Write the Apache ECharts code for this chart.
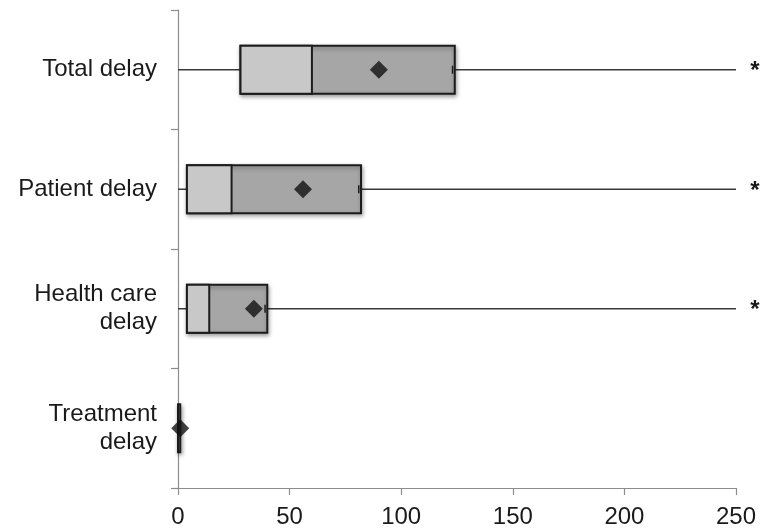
<!DOCTYPE html>
<html>
<head>
<meta charset="utf-8">
<script src="https://cdn.jsdelivr.net/npm/echarts@6/dist/echarts.min.js"></script>
<style>
html,body{margin:0;padding:0;background:#fff;}
#chart{width:760px;height:531px;}
</style>
</head>
<body>
<div id="chart"></div>
<script>
const categories = ['Total delay', 'Patient delay', 'Health care\ndelay', 'Treatment\ndelay'];
const whiskerLow = [0, 0, 0, 0];
const q1 = [28, 4, 4, 0];
const median = [60, 24, 14, 0.5];
const q3 = [124, 82, 40, 1];
const whiskerHigh = [250, 250, 250, 1];
const capMark = [123, 81, 39, null];
const mean = [90, 56, 34, 1];
const outlierMark = ['*', '*', '*', ''];
const xTicks = [0, 50, 100, 150, 200, 250];

const FONT = '"Liberation Sans", Arial, Helvetica, sans-serif';
const chart = echarts.init(document.getElementById('chart'));

const boxData = categories.map((c, i) => [i, whiskerLow[i], q1[i], median[i], q3[i], whiskerHigh[i]]);
const meanData = categories.map((c, i) => [mean[i], i]);

function renderBox(params, api) {
  const idx = params.dataIndex;
  const i = api.value(0);
  const pLow = api.coord([api.value(1), i]);
  const pQ1 = api.coord([api.value(2), i]);
  const pMed = api.coord([api.value(3), i]);
  const pQ3 = api.coord([api.value(4), i]);
  const pHigh = api.coord([api.value(5), i]);
  const band = api.size([0, 1])[1];
  const h = band * 0.4;
  const y = pMed[1];
  const top = y - h / 2;
  const children = [];
  if (pHigh[0] - pLow[0] > 4) {
    children.push({
      type: 'line',
      shape: { x1: pLow[0], y1: y, x2: pHigh[0], y2: y },
      style: { stroke: '#3a3a3a', lineWidth: 1.5 }
    });
  }
  children.push({
    type: 'rect',
    shape: { x: pQ1[0], y: top, width: Math.max(pQ3[0] - pQ1[0], 0.5), height: h },
    style: {
      fill: '#a6a6a6', stroke: '#1c1c1c', lineWidth: 2,
      shadowBlur: 4, shadowOffsetX: 1, shadowOffsetY: 2, shadowColor: 'rgba(0,0,0,0.35)'
    }
  });
  if (pMed[0] - pQ1[0] > 2) {
    children.push({
      type: 'rect',
      shape: { x: pQ1[0], y: top, width: pMed[0] - pQ1[0], height: h },
      style: { fill: '#c8c8c8', stroke: '#1c1c1c', lineWidth: 2 }
    });
  }
  if (capMark[idx] != null) {
    const pc = api.coord([capMark[idx], i]);
    children.push({
      type: 'line',
      shape: { x1: pc[0], y1: y - 4, x2: pc[0], y2: y + 4 },
      style: { stroke: '#1c1c1c', lineWidth: 1.5 }
    });
  }
  if (outlierMark[idx]) {
    children.push({
      type: 'text',
      style: {
        x: pHigh[0] + 19, y: y + 2, text: outlierMark[idx],
        font: 'bold 24px ' + FONT, fill: '#1a1a1a', align: 'center', verticalAlign: 'middle'
      }
    });
  }
  return { type: 'group', children };
}

chart.setOption({
  animation: false,
  backgroundColor: '#ffffff',
  grid: { left: 178, right: 24, top: 10, bottom: 43, containLabel: false },
  xAxis: {
    type: 'value',
    min: xTicks[0],
    max: xTicks[xTicks.length - 1],
    interval: xTicks[1] - xTicks[0],
    splitLine: { show: false },
    axisLine: { show: true, lineStyle: { color: '#8c8c8c', width: 1.2 } },
    axisTick: { show: true, length: 7, lineStyle: { color: '#8c8c8c', width: 1.2 } },
    axisLabel: { fontSize: 24, fontFamily: FONT, color: '#1a1a1a', margin: 17 }
  },
  yAxis: {
    type: 'category',
    data: categories,
    inverse: true,
    boundaryGap: true,
    axisLine: { show: true, lineStyle: { color: '#8c8c8c', width: 1.2 } },
    axisTick: { show: true, length: 7, interval: 0, lineStyle: { color: '#8c8c8c', width: 1.2 } },
    axisLabel: { fontSize: 24, lineHeight: 28, fontFamily: FONT, color: '#1a1a1a', margin: 21, interval: 0 },
    splitLine: { show: false }
  },
  series: [
    {
      type: 'custom',
      renderItem: renderBox,
      data: boxData,
      encode: { y: 0, x: [1, 2, 3, 4, 5] },
      z: 2
    },
    {
      type: 'scatter',
      data: meanData,
      symbol: 'diamond',
      symbolSize: [18, 18],
      itemStyle: { color: '#111111' },
      z: 5
    }
  ]
});
</script>
</body>
</html>
